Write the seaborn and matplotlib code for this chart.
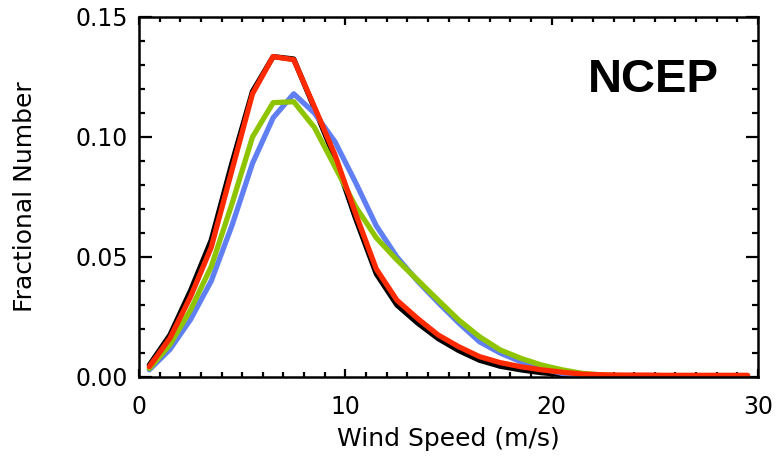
import numpy as np
import pandas as pd
import matplotlib
matplotlib.use("Agg")
import matplotlib.pyplot as plt
import seaborn as sns
from matplotlib.ticker import MultipleLocator

# ---- data ----
wind_speed = [0.5, 1.5, 2.5, 3.5, 4.5, 5.5, 6.5, 7.5, 8.5, 9.5,
              10.5, 11.5, 12.5, 13.5, 14.5, 15.5, 16.5, 17.5, 18.5, 19.5,
              20.5, 21.5, 22.5, 23.5, 24.5, 25.5, 26.5, 27.5, 28.5, 29.5]

black_vals = [0.0050, 0.0175, 0.0360, 0.0570, 0.0890, 0.1190, 0.1335, 0.1325, 0.1120, 0.0910,
              0.0660, 0.0430, 0.0300, 0.0225, 0.0160, 0.0110, 0.0070, 0.0045, 0.0030, 0.0018,
              0.0010, 0.0005, 0.0003, 0.0002, 0.0002, 0.0001, 0.0001, 0.0001, 0.0001, 0.0001]

blue_vals = [0.0030, 0.0115, 0.0240, 0.0400, 0.0630, 0.0890, 0.1080, 0.1180, 0.1100, 0.0980,
             0.0810, 0.0630, 0.0500, 0.0400, 0.0310, 0.0225, 0.0147, 0.0100, 0.0064, 0.0036,
             0.0015, 0.0006, 0.0003, 0.0002, 0.0002, 0.0001, 0.0001, 0.0001, 0.0001, 0.0001]

green_vals = [0.0035, 0.0135, 0.0280, 0.0460, 0.0720, 0.1000, 0.1143, 0.1147, 0.1040, 0.0876,
              0.0710, 0.0580, 0.0488, 0.0404, 0.0320, 0.0237, 0.0168, 0.0113, 0.0078, 0.0050,
              0.0030, 0.0015, 0.0008, 0.0004, 0.0003, 0.0003, 0.0003, 0.0003, 0.0003, 0.0003]

red_vals = [0.0043, 0.0162, 0.0335, 0.0540, 0.0860, 0.1180, 0.1335, 0.1322, 0.1126, 0.0925,
            0.0680, 0.0450, 0.0320, 0.0244, 0.0175, 0.0126, 0.0085, 0.0060, 0.0043, 0.0030,
            0.0020, 0.0012, 0.0009, 0.0008, 0.0008, 0.0007, 0.0007, 0.0007, 0.0007, 0.0007]

series_names = ["black", "blue", "green", "red"]
series_colors = ["#000000", "#5f7ff2", "#8ec400", "#ff2a00"]

x_ticks = [0, 10, 20, 30]
y_ticks = [0.00, 0.05, 0.10, 0.15]
y_tick_labels = ["0.00", "0.05", "0.10", "0.15"]

# ---- build long-form table ----
frames = []
for name, vals in zip(series_names, [black_vals, blue_vals, green_vals, red_vals]):
    frames.append(pd.DataFrame({"speed": wind_speed, "frac": vals, "series": name}))
df = pd.concat(frames, ignore_index=True)

sns.set_style("ticks")
plt.rcParams["font.family"] = ["DejaVu Sans"]
plt.rcParams["text.color"] = "black"
plt.rcParams["axes.labelcolor"] = "black"
plt.rcParams["xtick.color"] = "black"
plt.rcParams["ytick.color"] = "black"
plt.rcParams["axes.edgecolor"] = "black"

fig = plt.figure(figsize=(7.79, 4.58), dpi=100)
ax = fig.add_axes([139 / 779, 1 - 377 / 458, 619 / 779, 360 / 458])

sns.lineplot(data=df, x="speed", y="frac", hue="series", hue_order=series_names,
             palette=dict(zip(series_names, series_colors)), linewidth=3.8,
             legend=False, ax=ax, sort=False)

ax.set_xlim(0, 30)
ax.set_ylim(0, 0.15)
ax.set_xticks(x_ticks)
ax.set_xticklabels([str(t) for t in x_ticks])
ax.set_yticks(y_ticks)
ax.set_yticklabels(y_tick_labels)
ax.xaxis.set_minor_locator(MultipleLocator(1))
ax.yaxis.set_minor_locator(MultipleLocator(0.01))

for side in ["left", "right", "top", "bottom"]:
    ax.spines[side].set_visible(True)
    ax.spines[side].set_linewidth(1.8)
    ax.spines[side].set_color("black")

ax.tick_params(axis="both", which="both", direction="in", top=True, right=True,
               color="black", labelcolor="black", width=1.6)
ax.tick_params(axis="x", which="major", length=6, pad=13, labelsize=17)
ax.tick_params(axis="x", which="minor", length=3.5)
ax.tick_params(axis="y", which="major", length=9, pad=8, labelsize=17)
ax.tick_params(axis="y", which="minor", length=4.5)

ax.set_xlabel("Wind Speed (m/s)", fontsize=18, labelpad=6, color="black")
ax.set_ylabel("Fractional Number", fontsize=18, color="black")
ax.yaxis.set_label_coords(-0.165, 0.5)

ax.text(0.725, 0.792, "NCEP", transform=ax.transAxes, ha="left", va="baseline",
        fontsize=34, fontweight="bold", family="Liberation Sans", color="black")

fig.savefig("out.png", dpi=100)
